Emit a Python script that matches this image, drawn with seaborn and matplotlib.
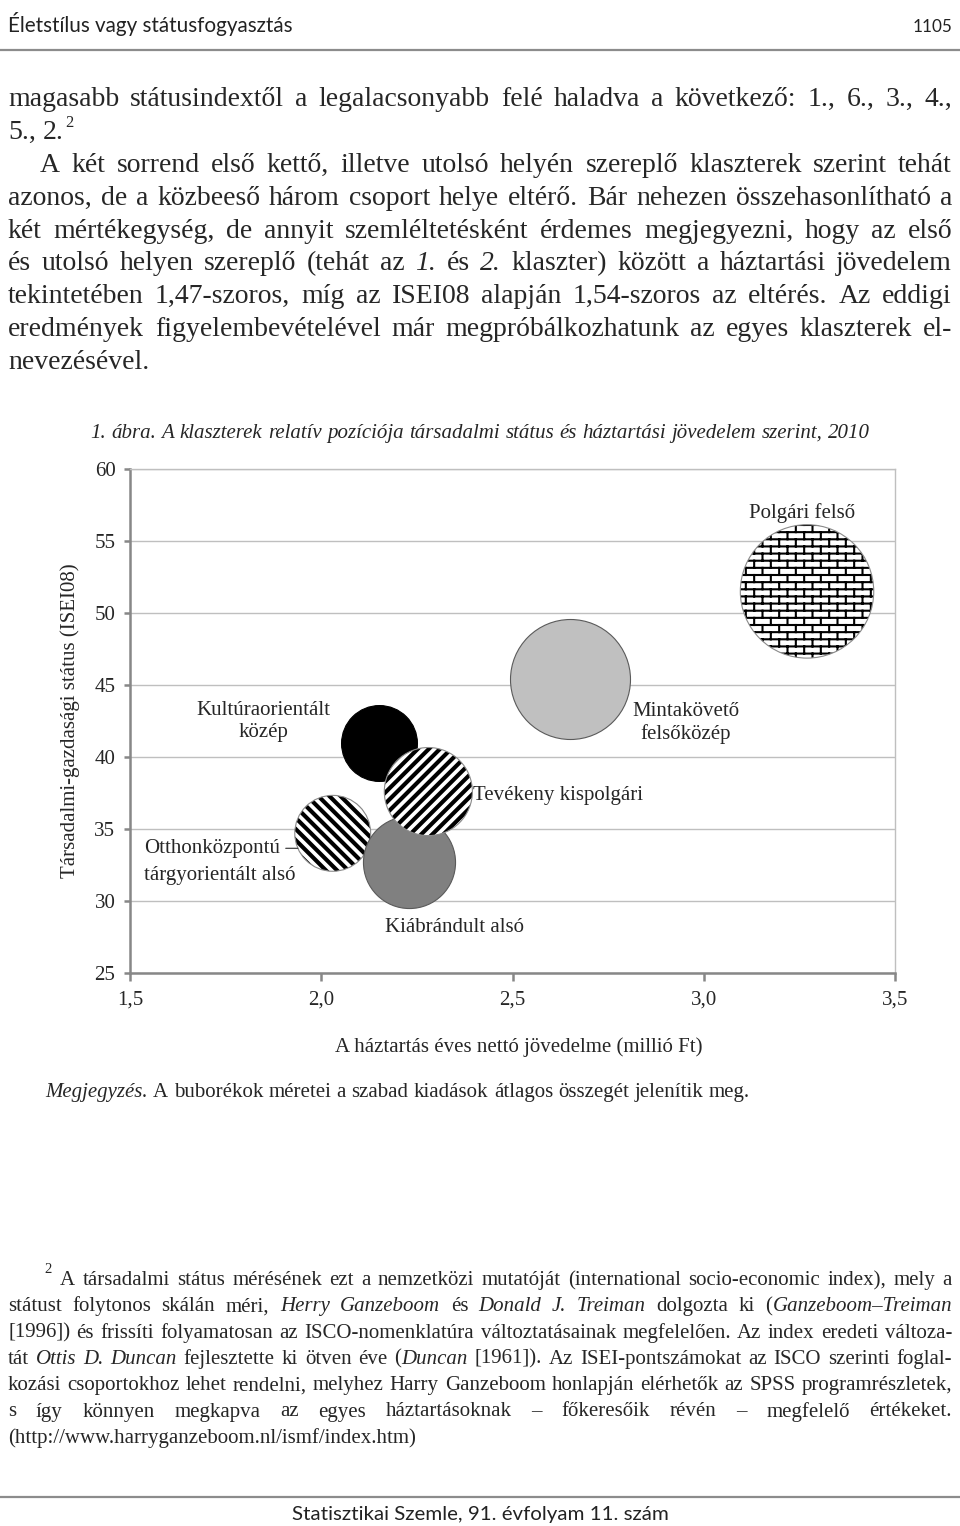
import matplotlib
matplotlib.use("Agg")
import matplotlib.pyplot as plt
import matplotlib.hatch as mhatch
import matplotlib.transforms as mtransforms
from matplotlib.path import Path
import numpy as np
import pandas as pd
import seaborn as sns

# Chart data (drawing order = back to front)
klaszterek = ["Otthonközpontú tárgyorientált alsó", "Kiábrándult alsó",
              "Kultúraorientált közép", "Mintakövető felsőközép",
              "Tevékeny kispolgári", "Polgári felső"]
jovedelem = [2.03, 2.23, 2.15, 2.65, 2.28, 3.27]   # millió Ft
isei08 = [34.7, 32.7, 41.0, 45.4, 37.6, 51.5]
kiadas = [144, 212, 144, 360, 194, 445]           # bubble size (relative)

x_ticks = [1.5, 2.0, 2.5, 3.0, 3.5]
x_tick_labels = ["1,5", "2,0", "2,5", "3,0", "3,5"]
y_ticks = [25, 30, 35, 40, 45, 50, 55, 60]

# Page text
header = "Életstílus vagy státusfogyasztás"
page_no = "1105"
footer = "Statisztikai Szemle, 91. évfolyam 11. szám"
body = [
    "magasabb státusindextől a legalacsonyabb felé haladva a következő: 1., 6., 3., 4.,",
    "5., 2.",
    "A két sorrend első kettő, illetve utolsó helyén szereplő klaszterek szerint tehát",
    "azonos, de a közbeeső három csoport helye eltérő. Bár nehezen összehasonlítható a",
    "két mértékegység, de annyit szemléltetésként érdemes megjegyezni, hogy az első",
    "és utolsó helyen szereplő (tehát az *1.* és *2.* klaszter) között a háztartási jövedelem",
    "tekintetében 1,47-szoros, míg az ISEI08 alapján 1,54-szoros az eltérés. Az eddigi",
    "eredmények figyelembevételével már megpróbálkozhatunk az egyes klaszterek el-",
    "nevezésével.",
]
caption = "*1. ábra. A klaszterek relatív pozíciója társadalmi státus és háztartási jövedelem szerint, 2010*"
x_label = "A háztartás éves nettó jövedelme (millió Ft)"
y_label = "Társadalmi-gazdasági státus (ISEI08)"
note = "*Megjegyzés.* A buborékok méretei a szabad kiadások átlagos összegét jelenítik meg."
footnote = [
    "A társadalmi státus mérésének ezt a nemzetközi mutatóját (international socio-economic index), mely a",
    "státust folytonos skálán méri, *Herry Ganzeboom* és *Donald J. Treiman* dolgozta ki (*Ganzeboom–Treiman*",
    "[1996]) és frissíti folyamatosan az ISCO-nomenklatúra változtatásainak megfelelően. Az index eredeti változa-",
    "tát *Ottis D. Duncan* fejlesztette ki ötven éve (*Duncan* [1961]). Az ISEI-pontszámokat az ISCO szerinti foglal-",
    "kozási csoportokhoz lehet rendelni, melyhez Harry Ganzeboom honlapján elérhetők az SPSS programrészletek,",
    "s így könnyen megkapva az egyes háztartásoknak – főkeresőik révén – megfelelő értékeket.",
    "(http://www.harryganzeboom.nl/ismf/index.htm)",
]


# custom hatches: diagonal stripes and bricks
class SegHatch(mhatch.HatchPatternBase):
    key = "?"

    def __init__(self, hatch, density):
        self.segs = self.segments() if self.key in hatch else []
        self.num_vertices = 2 * len(self.segs)

    def set_vertices_and_codes(self, vertices, codes):
        for i, (p0, p1) in enumerate(self.segs):
            vertices[2 * i] = p0
            vertices[2 * i + 1] = p1
            codes[2 * i] = Path.MOVETO
            codes[2 * i + 1] = Path.LINETO


def stripes(n, sign):
    segs = []
    for k in range(-n, n + 1):
        for d in (-0.0145, 0.0145):
            c = k / n + d
            if sign > 0:
                segs.append(((c - 0.05, -0.05), (c + 1.05, 1.05)))
            else:
                segs.append(((c - 0.05, 1.05), (c + 1.05, -0.05)))
    return segs


class StripeNE(SegHatch):
    key = "/"

    def segments(self):
        return stripes(9, 1)


class StripeNW(SegHatch):
    key = "\\"

    def segments(self):
        return stripes(9, -1)


class Brick(SegHatch):
    key = "*"

    def segments(self):
        rows, cols = 14, 6
        segs = []
        for j in range(rows):
            y = (j + 0.5) / rows
            segs.append(((-0.05, y), (1.05, y)))
        for j in range(-1, rows):
            y0, y1 = (j + 0.5) / rows, (j + 1.5) / rows
            for i in range(-1, cols + 1):
                x = (i + 0.5 * (j % 2) + 0.25) / cols
                segs.append(((x, y0), (x, y1)))
        return segs


mhatch._hatch_types[:] = [StripeNE, StripeNW, Brick]

sns.set_theme(style="white")
plt.rcParams["font.family"] = ["Liberation Serif", "DejaVu Serif"]
plt.rcParams["hatch.linewidth"] = 1.5
plt.rcParams["hatch.color"] = "black"

W, H = 960, 1526
fig = plt.figure(figsize=(W / 100, H / 100), dpi=100)
renderer = fig.canvas.get_renderer()


def fx(x):
    return x / W


def fy(y):
    return 1 - y / H


def parse(line):
    # words as lists of (segment, italic); *...* marks italics
    words, cur, seg, ital = [], [], "", False
    for ch in line:
        if ch == "*":
            if seg:
                cur.append((seg, ital))
            seg, ital = "", not ital
        elif ch == " ":
            if seg:
                cur.append((seg, ital))
            if cur:
                words.append(cur)
            cur, seg = [], ""
        else:
            seg += ch
    if seg:
        cur.append((seg, ital))
    if cur:
        words.append(cur)
    return words


def text_line(line, x0, x1, base, size, justify=True, family=None):
    words = parse(line)
    placed = []
    for w in words:
        parts = []
        for s, it in w:
            t = fig.text(0, fy(base), s, fontsize=size, va="baseline", ha="left",
                         style="italic" if it else "normal", family=family)
            parts.append((t, t.get_window_extent(renderer).width))
        placed.append(parts)
    widths = [sum(p[1] for p in parts) for parts in placed]
    if justify and len(placed) > 1:
        gap = (x1 - x0 - sum(widths)) / (len(placed) - 1)
    else:
        gap = size * 100 / 72 * 0.25
    x = x0
    for parts, wd in zip(placed, widths):
        xx = x
        for t, pw in parts:
            t.set_x(fx(xx))
            xx += pw
        x += wd + gap
    return x - gap


def fit_text(x, base, s, width, ha="left", **kw):
    t = fig.text(fx(x), fy(base), s, fontsize=10, va="baseline", ha=ha, **kw)
    w = t.get_window_extent(renderer).width
    t.set_fontsize(10 * width / w)
    return t


# header / footer
sans = ["Lato", "DejaVu Sans"]
fit_text(8, 32, header, 284, family=sans, color="#222222")
fit_text(952, 32, page_no, 40, ha="right", family=sans, color="#222222")
fig.add_artist(plt.Line2D([0, 1], [fy(50), fy(50)], transform=fig.transFigure,
                          color="#8c8c8c", lw=1.6))
fig.add_artist(plt.Line2D([0, 1], [fy(1497), fy(1497)], transform=fig.transFigure,
                          color="#8c8c8c", lw=1.6))
fit_text(480, 1520, footer, 376, ha="center", family=sans, color="#222222")

# body paragraph
body_size = 20
for i, line in enumerate(body):
    base = 106 + 32.9 * i
    x0 = 40 if i == 2 else 8
    end = text_line(line, x0, 952, base, body_size, justify=i not in (1, 8))
    if i == 1:
        fig.text(fx(end + 2), fy(base - 12), "2", fontsize=12, va="baseline", ha="left")

# caption
text_line(caption, 90, 870, 438, 15)

# chart
df = pd.DataFrame({"klaszter": klaszterek, "jovedelem": jovedelem,
                   "isei08": isei08, "kiadas": kiadas})

styles = {
    "Otthonközpontú tárgyorientált alsó": dict(color="white", hatch="\\"),
    "Kiábrándult alsó": dict(color="#808080", hatch=None),
    "Kultúraorientált közép": dict(color="black", hatch=None),
    "Mintakövető felsőközép": dict(color="#c0c0c0", hatch=None),
    "Tevékeny kispolgári": dict(color="white", hatch="/"),
    "Polgári felső": dict(color="white", hatch="*"),
}
size_kw = dict(size="kiadas", sizes=(0, 10368), size_norm=(0, 500), legend=False)

ax = fig.add_axes([130 / W, 1 - 973 / H, 765 / W, 504 / H])
for name in klaszterek:
    sub = df[df["klaszter"] == name]
    st = styles[name]
    if st["hatch"]:
        sns.scatterplot(data=sub, x="jovedelem", y="isei08", ax=ax, color="white",
                        edgecolor="black", linewidth=0, hatch=st["hatch"], **size_kw)
        sns.scatterplot(data=sub, x="jovedelem", y="isei08", ax=ax, color="none",
                        edgecolor="#8a8a8a", linewidth=0.8, **size_kw)
    else:
        edge = "black" if st["color"] == "black" else "#5a5a5a"
        sns.scatterplot(data=sub, x="jovedelem", y="isei08", ax=ax, color=st["color"],
                        edgecolor=edge, linewidth=0.8, **size_kw)

ax.set_xlim(1.5, 3.5)
ax.set_ylim(25, 60)
ax.set_xticks(x_ticks)
ax.set_xticklabels(x_tick_labels)
ax.set_yticks(y_ticks)
ax.set_axisbelow(True)
ax.yaxis.grid(True, color="#bfbfbf", linewidth=1.0)
ax.xaxis.grid(False)
for side in ("left", "bottom"):
    ax.spines[side].set_color("#878787")
    ax.spines[side].set_linewidth(1.8)
for side in ("top", "right"):
    ax.spines[side].set_color("#bfbfbf")
    ax.spines[side].set_linewidth(1.0)
ax.tick_params(axis="x", direction="out", length=5.5, width=1.8, color="#878787",
               labelsize=15, pad=7, bottom=True)
ax.tick_params(axis="y", direction="out", length=4.5, width=1.8, color="#878787",
               labelsize=15, pad=6, left=True)
ax.set_xlabel(x_label, fontsize=15)
ax.set_ylabel(y_label, fontsize=15)
ax.xaxis.set_label_coords(0.508, -0.147)
ax.xaxis.label.set_va("center")
ax.yaxis.set_label_coords(-0.078, 0.5)
ax.yaxis.label.set_va("center")

# bubble labels (offsets in points from the bubble centre)
lab_kw = dict(textcoords="offset points", fontsize=15, va="center")
pos = dict(zip(klaszterek, zip(jovedelem, isei08)))
ax.annotate("Polgári felső", pos["Polgári felső"], xytext=(-3.6, 56.5),
            ha="center", **lab_kw)
ax.annotate("Mintakövető\nfelsőközép", pos["Mintakövető felsőközép"],
            xytext=(83.5, -31.3), ha="center", multialignment="center", **lab_kw)
ax.annotate("Kultúraorientált\nközép", pos["Kultúraorientált közép"],
            xytext=(-82.8, 15.1), ha="center", multialignment="center", **lab_kw)
ax.annotate("Tevékeny kispolgári", pos["Tevékeny kispolgári"], xytext=(32.4, -2.9),
            ha="left", **lab_kw)
ax.annotate("Kiábrándult alsó", pos["Kiábrándult alsó"], xytext=(32.4, -46.8),
            ha="center", **lab_kw)
otthon = "Otthonközpontú tárgyorientált alsó"
edge_pt = mtransforms.offset_copy(ax.transData, fig=fig, x=-25.1, y=-10.8, units="points")
ax.annotate("Otthonközpontú", pos[otthon], xycoords=edge_pt, xytext=(-111, 0),
            ha="left", arrowprops=dict(arrowstyle="-", color="#444444", lw=0.9,
                                       shrinkA=2, shrinkB=0, relpos=(1, 0.5)),
            **lab_kw)
ax.annotate("tárgyorientált alsó", pos[otthon], xytext=(-136, -30.2), ha="left", **lab_kw)

# note and footnote
text_line(note, 45, 750, 1097, 15)
fig.text(fx(44), fy(1273), "2", fontsize=10.5, va="baseline", ha="left")
for i, line in enumerate(footnote):
    base = 1285 + 26.3 * i
    x0 = 60 if i == 0 else 8
    text_line(line, x0, 952, base, 15, justify=i < 6)

fig.savefig("out.png", dpi=100)
